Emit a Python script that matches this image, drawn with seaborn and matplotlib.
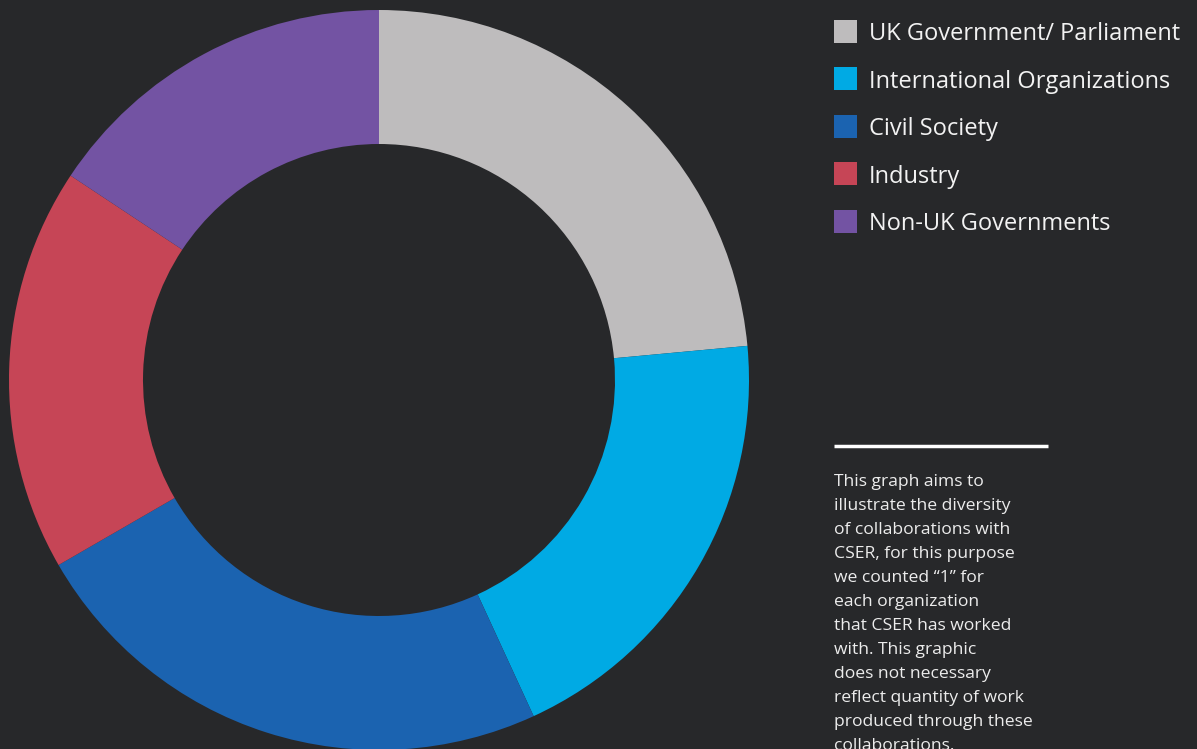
import matplotlib
matplotlib.use("Agg")
import matplotlib.pyplot as plt
from matplotlib.patches import Rectangle
import seaborn as sns

categories = ["UK Government/ Parliament", "International Organizations",
              "Civil Society", "Industry", "Non-UK Governments"]
counts = [12, 10, 12, 9, 8]
colors = ["#bebcbd", "#00aae4", "#1b63b0", "#c64556", "#7353a3"]
note_lines = ["This graph aims to", "illustrate the diversity", "of collaborations with",
              "CSER, for this purpose", "we counted \u201c1\u201d for", "each organization",
              "that CSER has worked", "with. This graphic", "does not necessary",
              "reflect quantity of work", "produced through these", "collaborations."]

BG = "#27282a"
sns.set_theme(style="dark", palette=colors)
plt.rcParams["font.family"] = ["Open Sans", "DejaVu Sans"]

W, H = 1197, 749
fig = plt.figure(figsize=(W / 100, H / 100), dpi=100, facecolor=BG)
ax = fig.add_axes([0, 0, 1, 1])
ax.set_facecolor(BG)

R_out, R_in = 370, 236
ax.pie(counts, colors=colors, startangle=90, counterclock=False,
       center=(379, H - 380), radius=R_out, frame=True,
       wedgeprops=dict(width=R_out - R_in, linewidth=0))
ax.set_xlim(0, W)
ax.set_ylim(0, H)
ax.set_aspect("equal")
ax.axis("off")

# legend (manual, square swatches)
sq = 23
for i, (lab, col) in enumerate(zip(categories, colors)):
    yc = H - (31 + i * 47.6)
    ax.add_patch(Rectangle((834, yc - sq / 2), sq, sq, facecolor=col, edgecolor="none"))
    ax.text(869, yc, lab, color="#f2f2f2", fontsize=17, va="center_baseline", ha="left")

ax.plot([834, 1048], [H - 446, H - 446], color="white", lw=2.5, solid_capstyle="butt")
for i, line in enumerate(note_lines):
    ax.text(834, H - 486 - i * 24, line, color="#ececec", fontsize=12.6,
            va="baseline", ha="left")

fig.savefig("out.png", dpi=100, facecolor=BG)
